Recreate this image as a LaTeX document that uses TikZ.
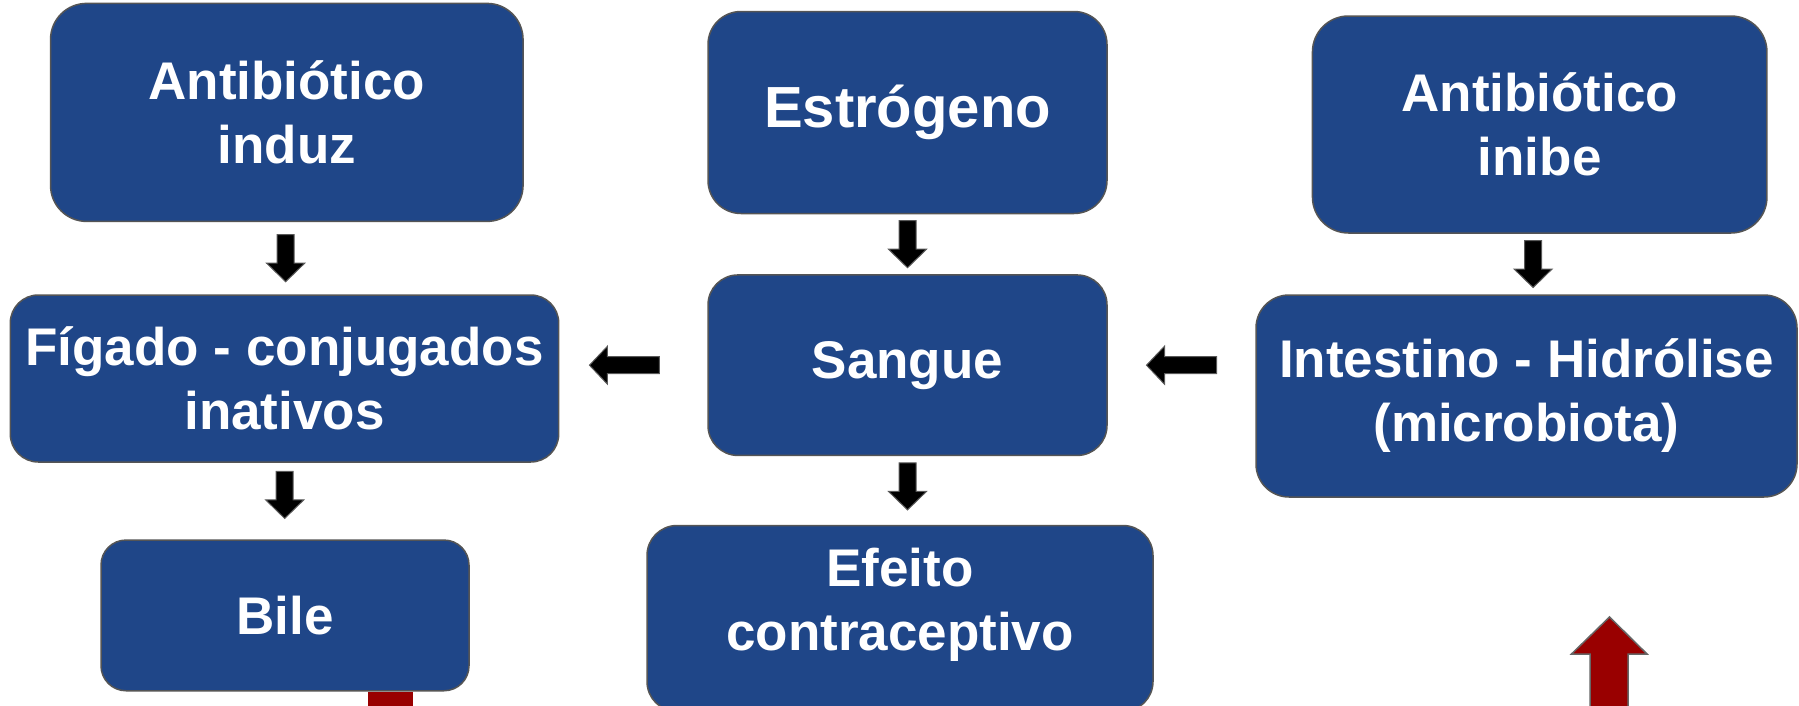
\documentclass[tikz,border=0pt]{standalone}
\usepackage{fontspec}
\setmainfont{Liberation Sans}
\usetikzlibrary{calc}
\definecolor{boxblue}{RGB}{31,70,136}
\definecolor{boxline}{RGB}{85,85,85}
\definecolor{darkred}{RGB}{153,0,0}
\begin{document}
\begin{tikzpicture}[x=1pt,y=-1pt,
  box/.style={draw=boxline, line width=1.5pt, fill=boxblue, text=white,
    align=center, inner sep=0pt, rounded corners=#1,
    font=\bfseries\fontsize{53}{64}\selectfont},
  lbl/.style={text=white, align=center, inner sep=0pt,
    font=\bfseries\fontsize{53}{64}\selectfont},
  blk/.style={fill=black, draw=black!65, line width=1pt},
  redblk/.style={fill=darkred, draw=black!60, line width=1.5pt},
  downblk/.pic={\path[blk] (-8.5,-23.5) -- (8.5,-23.5) -- (8.5,5) -- (19,5) -- (0,23.5) -- (-19,5) -- (-8.5,5) -- cycle;},
  leftblk/.pic={\path[blk] (35,-8.5) -- (-17,-8.5) -- (-17,-19) -- (-35,0) -- (-17,19) -- (-17,8.5) -- (35,8.5) -- cycle;}
]
\path[use as bounding box] (0,0) rectangle (1799,705);
\fill[white] (0,0) rectangle (1799,705);
\clip (0,0) rectangle (1799,705);

% boxes
\node[box=36pt, minimum width=472.5pt, minimum height=218pt] (a1) at (286.8,112.4) {Antibiótico\\induz};
\node[box=33pt, minimum width=399pt, minimum height=202pt, font=\bfseries\fontsize{58}{70}\selectfont] (e) at (907.5,112.5) {Estrógeno};
\node[box=36pt, minimum width=454.5pt, minimum height=217pt] (a2) at (1539.7,124.5) {Antibiótico\\inibe};
\node[box=28pt, minimum width=548.4pt, minimum height=167pt] (f) at (284.5,378.5) {Fígado - conjugados\\inativos};
\node[box=30pt, minimum width=399pt, minimum height=180.5pt] (s) at (907.5,365.2) {Sangue};
\node[box=33pt, minimum width=541pt, minimum height=202pt] (i) at (1526.5,396) {Intestino - Hidrólise\\(microbiota)};
\node[box=25pt, minimum width=368pt, minimum height=150.7pt] (b) at (285,615.4) {Bile};
\node[box=30pt, minimum width=506pt, minimum height=186pt,
  label={[lbl, yshift=14pt]center:Efeito\\contraceptivo}] (ef) at (900,618.5) {};

% black block arrows
\coordinate (m1) at ($(a1.south)!0.5!(f.north)$);
\coordinate (m2) at ($(e.south)!0.5!(s.north)$);
\coordinate (m3) at ($(a2.south)!0.5!(i.north)$);
\coordinate (m4) at ($(f.south)!0.42!(b.north)$);
\coordinate (m5) at ($(s.south)!0.44!(s.south |- ef.north)$);
\coordinate (h1) at ($(f.east)!0.44!(s.west)$);
\coordinate (h2) at ($(s.east)!0.5!(i.west)$);
\pic at (m1) {downblk};
\pic at (m2) {downblk};
\pic at (m3) {downblk};
\pic at (m4) {downblk};
\pic at (m5) {downblk};
\pic at (h1 |- s.west) {leftblk};
\pic at (h2 |- s.east) {leftblk};

% red arrows
\coordinate (bs) at ($(b.south)+(105.5,0)$);
\fill[darkred] ($(bs)+(-22.5,0.8)$) rectangle ($(bs)+(22.5,30)$);
\coordinate (rt) at (1609.5,617);
\path[redblk] (rt) -- ++(37.5,37) -- ++(-19,0) -- ++(0,61) -- ++(-38,0) -- ++(0,-61) -- ++(-18.5,0) -- cycle;
\end{tikzpicture}
\end{document}
